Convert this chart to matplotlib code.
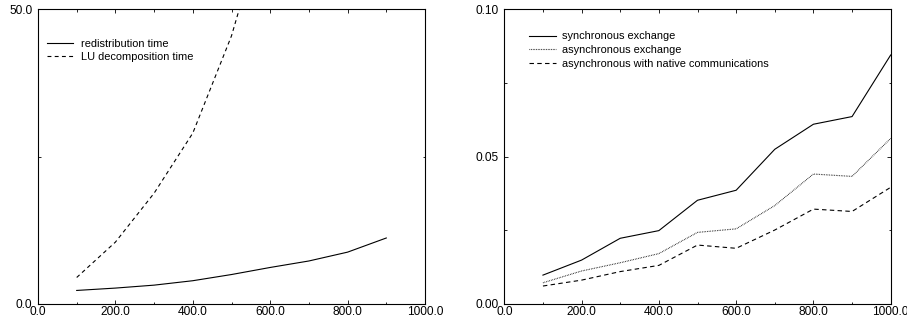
import matplotlib
matplotlib.use("Agg")
import matplotlib.pyplot as plt
from matplotlib.ticker import MultipleLocator, FormatStrFormatter

plt.rcParams['font.family'] = ['Liberation Sans', 'DejaVu Sans']

# Left chart data
n_left = [100, 200, 300, 400, 500, 600, 700, 800, 900]
redistribution_time = [2.3, 2.7, 3.2, 3.95, 5.0, 6.2, 7.3, 8.8, 11.2]
lu_time = [4.5, 10.5, 18.8, 29.0, 45.5, 68.0, 98.0, 140.0, 190.0]

# Right chart data
n_right = [100, 200, 300, 400, 500, 600, 700, 800, 900, 1000]
sync_exchange = [0.0098, 0.0149, 0.0223, 0.0249, 0.0352, 0.0386, 0.0525, 0.0610, 0.0636, 0.0845]
async_exchange = [0.0072, 0.0112, 0.0140, 0.0171, 0.0243, 0.0255, 0.0334, 0.0441, 0.0433, 0.0562]
async_native = [0.0061, 0.0081, 0.0110, 0.0131, 0.0200, 0.0189, 0.0251, 0.0322, 0.0314, 0.0396]

W, H = 907, 322
fig = plt.figure(figsize=(W / 100, H / 100), dpi=100)

def frac(l, r, t, b):
    return [l / W, 1 - b / H, (r - l) / W, (b - t) / H]

ax1 = fig.add_axes(frac(38, 425, 9.3, 304))
ax2 = fig.add_axes(frac(504.3, 890.7, 9.3, 304))

lw = 0.8
ax1.plot(n_left, redistribution_time, color='black', lw=lw, label='redistribution time')
ax1.plot(n_left, lu_time, color='black', lw=lw, ls=(0, (3.5, 3)), label='LU decomposition time')
ax1.set_xlim(0, 1000)
ax1.set_ylim(0, 50)
ax1.yaxis.set_major_locator(MultipleLocator(50))
ax1.yaxis.set_minor_locator(MultipleLocator(25))
ax1.yaxis.set_major_formatter(FormatStrFormatter('%.1f'))

ax2.plot(n_right, sync_exchange, color='black', lw=lw, label='synchronous exchange')
ax2.plot(n_right, async_exchange, color='black', lw=lw, ls=(0, (0.6, 0.9)), label='asynchronous exchange')
ax2.plot(n_right, async_native, color='black', lw=lw, ls=(0, (4, 3)), label='asynchronous with native communications')
ax2.set_xlim(0, 1000)
ax2.set_ylim(0, 0.10)
ax2.yaxis.set_major_locator(MultipleLocator(0.05))
ax2.yaxis.set_minor_locator(MultipleLocator(0.025))
ax2.yaxis.set_major_formatter(FormatStrFormatter('%.2f'))

for ax in (ax1, ax2):
    ax.xaxis.set_major_locator(MultipleLocator(200))
    ax.xaxis.set_minor_locator(MultipleLocator(100))
    ax.xaxis.set_major_formatter(FormatStrFormatter('%.1f'))
    ax.tick_params(which='both', direction='in', top=True, right=True, labelsize=8.6, width=0.6)
    ax.tick_params(axis='x', which='both', pad=1.5)
    ax.tick_params(axis='y', which='both', pad=4)
    ax.tick_params(which='major', length=3)
    ax.tick_params(which='minor', length=1.8)
    for s in ax.spines.values():
        s.set_linewidth(0.8)

ax1.legend(loc='upper left', bbox_to_anchor=(0.023, 0.90), frameon=False, fontsize=7.9,
           borderpad=0, borderaxespad=0, handlelength=2.4, handletextpad=0.75, labelspacing=0.3)
ax2.legend(loc='upper left', bbox_to_anchor=(0.065, 0.925), frameon=False, fontsize=7.9,
           borderpad=0, borderaxespad=0, handlelength=2.4, handletextpad=0.55, labelspacing=0.35)

fig.savefig('out.png', dpi=100)
